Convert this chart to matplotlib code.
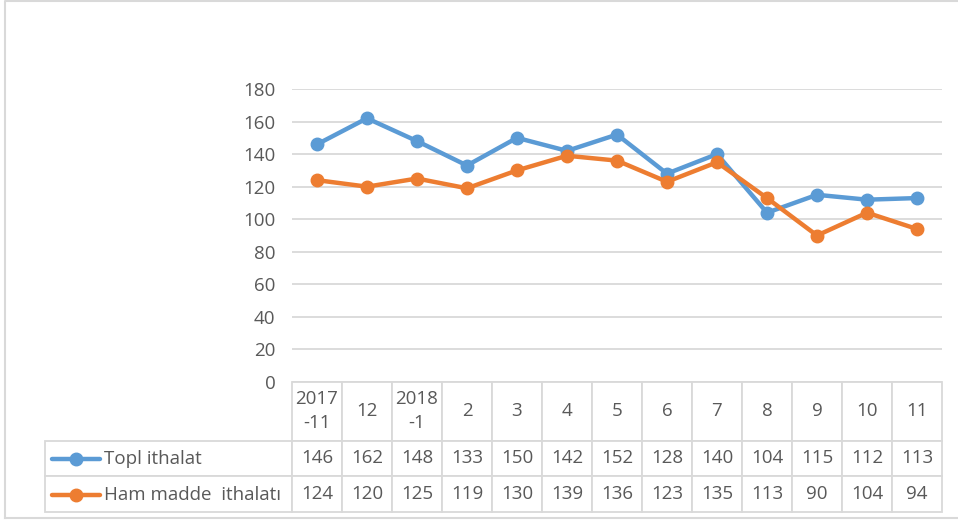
"""
Topl ithalat / Ham madde ithalatı: line chart with data table
"""
import matplotlib.pyplot as plt
from matplotlib.table import Table

periods = ["2017\n-11", "12", "2018\n-1", "2", "3", "4", "5", "6", "7", "8", "9", "10", "11"]
topl_ithalat = [146, 162, 148, 133, 150, 142, 152, 128, 140, 104, 115, 112, 113]
ham_madde = [124, 120, 125, 119, 130, 139, 136, 123, 135, 113, 90, 104, 94]
series_names = ["Topl ithalat", "Ham madde  ithalatı"]
y_ticks = [0, 20, 40, 60, 80, 100, 120, 140, 160, 180]

BLUE = "#5B9BD5"
ORANGE = "#ED7D31"
GRID = "#D9D9D9"
TEXT = "#595959"
FONT = "Open Sans"
FS = 13.5

W, H = 958, 524
fig = plt.figure(figsize=(W / 100, H / 100), dpi=100)

# outer chart frame
frame = fig.add_axes([0, 0, 1, 1])
frame.set_xlim(0, W)
frame.set_ylim(H, 0)
frame.axis("off")
frame.plot([5, 5, W], [518, 1, 1], color=GRID, lw=1.5)
frame.plot([5, W], [518, 518], color=GRID, lw=1.5)

# plot area
left, right, top, bottom = 292, 942, 89, 382
ax = fig.add_axes([left / W, 1 - bottom / H, (right - left) / W, (bottom - top) / H])
x = range(len(periods))
ax.plot(x, topl_ithalat, color=BLUE, lw=3.2, marker="o", ms=9, zorder=3)
ax.plot(x, ham_madde, color=ORANGE, lw=3.2, marker="o", ms=9, zorder=4)
ax.set_xlim(-0.5, len(periods) - 0.5)
ax.set_ylim(0, 180)
ax.set_yticks(y_ticks)
ax.set_xticks([])
ax.yaxis.grid(True, color=GRID, lw=1.3)
ax.set_axisbelow(True)
for s in ax.spines.values():
    s.set_visible(False)
ax.tick_params(axis="y", length=0, pad=12, labelsize=FS, labelcolor=TEXT)
for lbl in ax.get_yticklabels():
    lbl.set_fontfamily(FONT)

# data table under the plot
tleft, tright, ttop, tbottom = 45, 942, 382, 512
tw, th = tright - tleft, tbottom - ttop
tax = fig.add_axes([tleft / W, 1 - tbottom / H, tw / W, th / H])
tax.set_xlim(0, tw)
tax.set_ylim(th, 0)
tax.axis("off")
tab = Table(tax, bbox=[0, 0, 1, 1])
label_w, col_w = 247, 50
head_h, row_h = 59, 36
for j, p in enumerate(periods):
    tab.add_cell(0, j + 1, col_w, head_h, text=p, loc="center")
rows = [topl_ithalat, ham_madde]
for i, vals in enumerate(rows):
    tab.add_cell(i + 1, 0, label_w, row_h, text="")
    for j, v in enumerate(vals):
        tab.add_cell(i + 1, j + 1, col_w, row_h, text=str(v), loc="center")
tab.auto_set_font_size(False)
for cell in tab.get_celld().values():
    cell.set_edgecolor(GRID)
    cell.set_linewidth(1.3)
    cell.get_text().set_fontsize(FS)
    cell.get_text().set_color(TEXT)
    cell.get_text().set_fontfamily(FONT)
    cell.get_text().set_linespacing(1.4)
tax.add_table(tab)

# legend keys and series names inside the row label cells
for i, (name, color) in enumerate(zip(series_names, [BLUE, ORANGE])):
    yc = head_h + row_h * i + row_h / 2
    tax.plot([7, 55], [yc, yc], color=color, lw=3.2,
             solid_capstyle="round", clip_on=False)
    tax.plot([31], [yc], marker="o", color=color, ms=9, clip_on=False)
    tax.text(59, yc, name, ha="left", va="center", fontsize=FS,
             color=TEXT, family=FONT)

fig.savefig("out.png", dpi=100)
